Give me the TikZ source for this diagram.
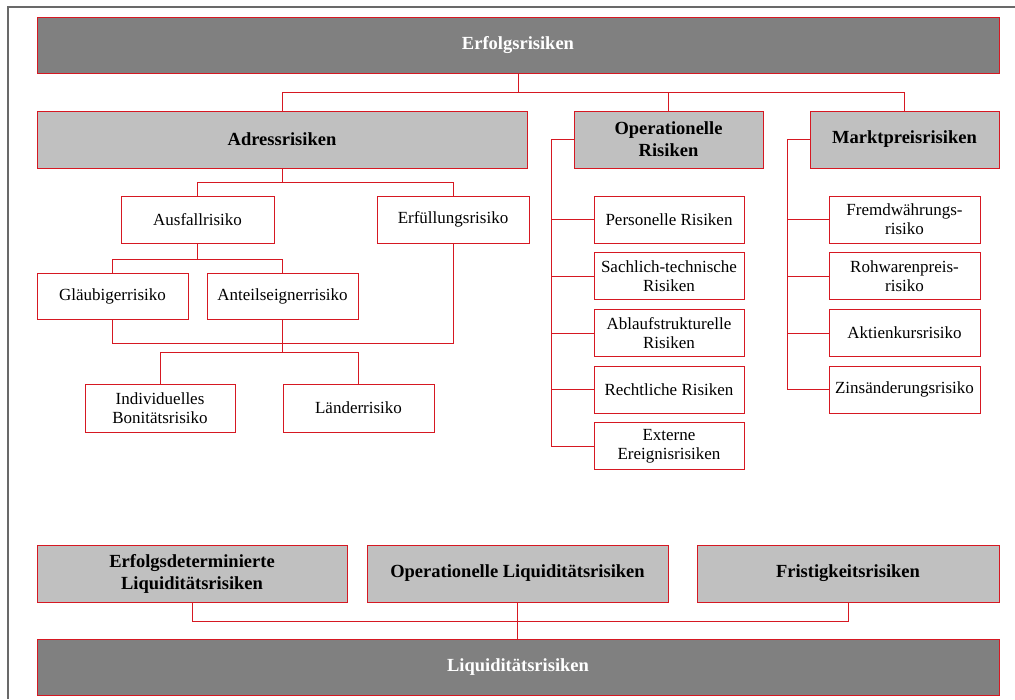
\documentclass[tikz,border=0pt]{standalone}
\usepackage{fontspec}
\setmainfont{Liberation Serif}
\usepackage{tikz}
\usetikzlibrary{
  calc,
  positioning
}
\definecolor{riskred}{RGB}{214,24,34}
\definecolor{darkbox}{RGB}{128,128,128}
\definecolor{lightbox}{RGB}{192,192,192}
\definecolor{framegray}{RGB}{105,105,105}
\tikzset{
  topbox/.style={draw=riskred,line width=0.9pt,fill=darkbox,text=white,
    minimum width=962pt,minimum height=56pt,inner sep=0pt,align=center,
    font=\fontsize{18.5}{22}\selectfont\bfseries},
  headbox/.style={draw=riskred,line width=0.9pt,fill=lightbox,
    minimum height=57pt,inner sep=0pt,align=center,
    font=\fontsize{18.5}{22}\selectfont\bfseries},
  leafbox/.style={draw=riskred,line width=0.9pt,fill=white,
    minimum width=151pt,minimum height=47pt,inner sep=0pt,align=center,
    font=\fontsize{17}{19}\selectfont},
  link/.style={draw=riskred,line width=0.8pt},
  frameline/.style={draw=framegray,line width=1.2pt}
}

\begin{document}
\begin{tikzpicture}[x=1pt,y=-1pt,node distance=8.8pt]
  \useasboundingbox (0,0) rectangle (1015,699);
  \draw[frameline] (8,699) -- (8,7) -- (1015,7);

  \node[topbox] (erfolg) at (518,45) {Erfolgsrisiken};
  \node[headbox,minimum width=490pt] (adress) at (282,139.5) {Adressrisiken};
  \node[headbox,minimum width=189pt] (oprisk) at (668.5,139.5) {Operationelle\\Risiken};
  \node[headbox,minimum width=189pt] (markt) at (904.5,139.5) {Marktpreisrisiken};

  \node[leafbox,minimum width=153pt] (ausfall) at (197.5,219.5) {Ausfallrisiko};
  \node[leafbox,minimum width=152pt] (erfuell) at (453,219.5) {Erfüllungsrisiko};
  \node[leafbox,minimum height=46pt] (glaeub) at (112.5,296) {Gläubigerrisiko};
  \node[leafbox,minimum height=46pt] (anteil) at (282.5,296) {Anteilseignerrisiko};
  \node[leafbox,minimum width=150pt,minimum height=48pt] (indiv) at (160,408) {Individuelles\\Bonitätsrisiko};
  \node[leafbox,minimum height=48pt] (laender) at (358.5,408) {Länderrisiko};

  \node[leafbox,minimum width=150pt] (pers) at (669,219.5) {Personelle Risiken};
  \node[leafbox,minimum width=150pt,below=of pers] (sach) {Sachlich-technische\\Risiken};
  \node[leafbox,minimum width=150pt,below=of sach] (ablauf) {Ablaufstrukturelle\\Risiken};
  \node[leafbox,minimum width=150pt,below=of ablauf] (recht) {Rechtliche Risiken};
  \node[leafbox,minimum width=150pt,below=of recht] (extern) {Externe\\Ereignisrisiken};

  \node[leafbox] (fremd) at (904.5,219.5) {Fremdwährungs-\\risiko};
  \node[leafbox,below=of fremd] (rohw) {Rohwarenpreis-\\risiko};
  \node[leafbox,below=of rohw] (aktie) {Aktienkursrisiko};
  \node[leafbox,below=of aktie] (zins) {Zinsänderungsrisiko};

  \node[headbox,minimum width=310pt] (erfdet) at (192,573.5) {Erfolgsdeterminierte\\Liquiditätsrisiken};
  \node[headbox,minimum width=301pt] (opliq) at (517.5,573.5) {Operationelle Liquiditätsrisiken};
  \node[headbox,minimum width=302pt] (frist) at (848,573.5) {Fristigkeitsrisiken};
  \node[topbox] (liquid) at (518,667) {Liquiditätsrisiken};

  \coordinate (busA) at (0,92);
  \coordinate (busB) at (0,182);
  \coordinate (busC) at (0,259);
  \coordinate (busD) at (0,343);
  \coordinate (busE) at (0,352);
  \coordinate (busF) at (0,621);
  \coordinate (trunkop) at (551,0);
  \coordinate (trunkmk) at (787,0);

  \draw[link] (erfolg.south) -- (erfolg.south |- busA);
  \draw[link] (adress.north) |- (busA -| markt.north) -- (markt.north);
  \draw[link] (oprisk.north) -- (oprisk.north |- busA);

  \draw[link] (adress.south) -- (adress.south |- busB);
  \draw[link] (ausfall.north) |- (busB -| erfuell.north) -- (erfuell.north);
  \draw[link] (ausfall.south) -- (ausfall.south |- busC);
  \draw[link] (glaeub.north) |- (busC -| anteil.north) -- (anteil.north);
  \draw[link] (glaeub.south) |- (busD -| erfuell.south) -- (erfuell.south);
  \draw[link] (anteil.south) -- (anteil.south |- busE);
  \draw[link] (indiv.north) |- (busE -| laender.north) -- (laender.north);

  \draw[link] (oprisk.west) -| (extern.west -| trunkop) -- (extern.west);
  \foreach \n in {pers,sach,ablauf,recht}
    \draw[link] (\n.west) -- (\n.west -| trunkop);
  \draw[link] (markt.west) -| (zins.west -| trunkmk) -- (zins.west);
  \foreach \n in {fremd,rohw,aktie}
    \draw[link] (\n.west) -- (\n.west -| trunkmk);

  \draw[link] (erfdet.south) |- (busF -| frist.south) -- (frist.south);
  \draw[link] (opliq.south) -- (opliq.south |- liquid.north);
\end{tikzpicture}
\end{document}
